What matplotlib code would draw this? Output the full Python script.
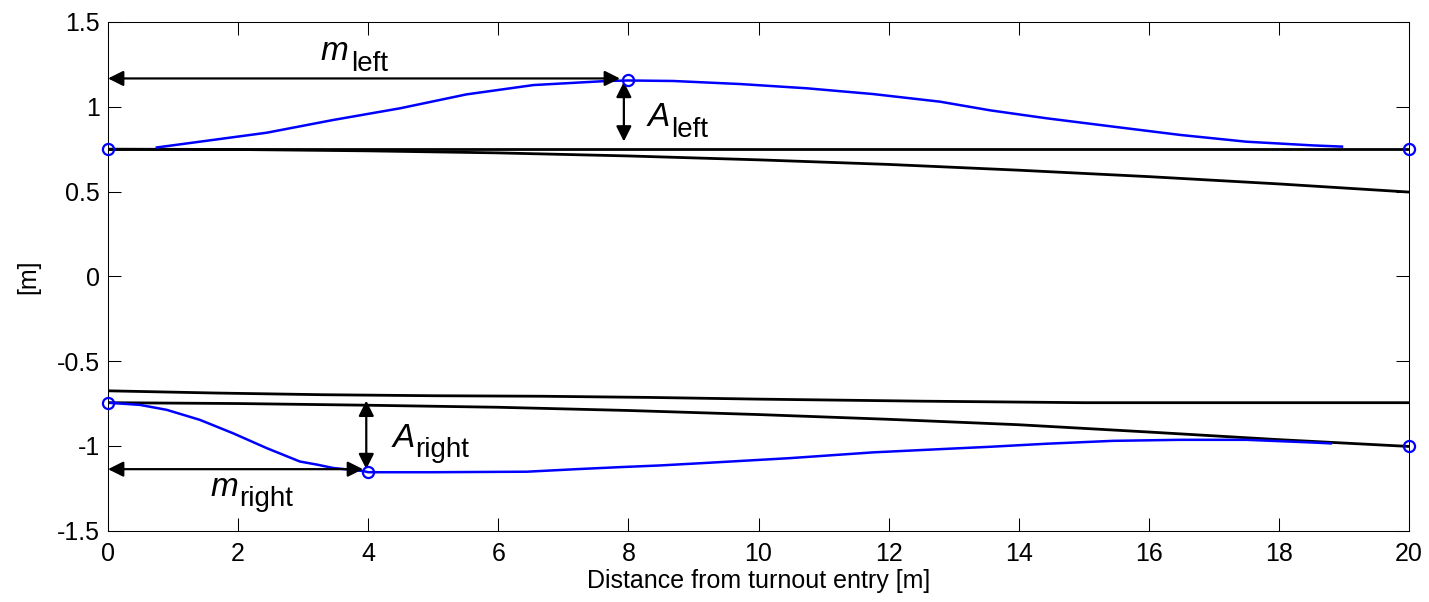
import matplotlib
matplotlib.use("Agg")
import matplotlib.pyplot as plt

plt.rcParams["font.family"] = ["Liberation Sans", "DejaVu Sans"]

# Left side: blue lateral offset curve, rails
left_blue_x = [0.75, 1.41, 2.44, 3.46, 4.49, 5.51, 6.54, 7.67, 8.0, 8.69, 9.72, 10.74,
               11.76, 12.79, 13.56, 14.43, 15.45, 16.48, 17.50, 18.53, 18.97]
left_blue_y = [0.76, 0.794, 0.847, 0.922, 0.991, 1.073, 1.128, 1.152, 1.155, 1.152, 1.134,
               1.109, 1.075, 1.030, 0.979, 0.932, 0.883, 0.834, 0.794, 0.772, 0.765]
left_markers_x = [0, 8, 20]
left_markers_y = [0.75, 1.155, 0.75]

straight_x = [0, 20]
straight_left_y = [0.75, 0.75]

rail_x = [0, 2, 4, 6, 8, 10, 12, 14, 16, 18, 20]
diverging_left_y = [0.75, 0.748, 0.740, 0.728, 0.71, 0.687, 0.66, 0.626, 0.588, 0.545, 0.497]
diverging_right_y = [-0.745, -0.75, -0.76, -0.772, -0.791, -0.815, -0.843, -0.875, -0.918, -0.963, -1.003]

upper_right_x = [0, 1.65, 3.3, 5.0, 6.67, 8.33, 10.0, 12.5, 15.0, 20]
upper_right_y = [-0.675, -0.688, -0.698, -0.704, -0.707, -0.714, -0.724, -0.736, -0.745, -0.745]

# Right side: blue curve
right_blue_x = [0, 0.49, 0.9, 1.41, 1.92, 2.44, 2.95, 3.21, 3.46, 3.92, 4.0, 5.0, 6.44, 7.2,
                7.87, 8.49, 9.2, 10.48, 11.76, 12.79, 13.56, 14.43, 15.45, 16.48, 17.5,
                18.53, 18.8]
right_blue_y = [-0.745, -0.758, -0.787, -0.846, -0.925, -1.013, -1.092, -1.11, -1.13, -1.148,
                -1.155, -1.155, -1.152, -1.137, -1.125, -1.115, -1.10, -1.072, -1.038,
                -1.019, -1.005, -0.987, -0.970, -0.964, -0.964, -0.98, -0.985]
right_markers_x = [0, 4, 20]
right_markers_y = [-0.745, -1.155, -1.003]

# Annotated parameters
m_left, A_left_top, A_left_base = 8, 1.155, 0.75
m_right, A_right_top, A_right_base = 4, -0.745, -1.155

x_ticks = [0, 2, 4, 6, 8, 10, 12, 14, 16, 18, 20]
y_ticks = [-1.5, -1, -0.5, 0, 0.5, 1, 1.5]
y_ticklabels = ["-1.5", "-1", "-0.5", "0", "0.5", "1", "1.5"]

fig = plt.figure(figsize=(14.29, 6.02), dpi=100)
ax = fig.add_axes([0.0756, 0.1184, 0.9104, 0.8451])

blk = dict(color="black", lw=2.0)
ax.plot(straight_x, straight_left_y, **blk)
ax.plot(rail_x, diverging_left_y, **blk)
ax.plot(upper_right_x, upper_right_y, **blk)
ax.plot(rail_x, diverging_right_y, **blk)

ax.plot(left_blue_x, left_blue_y, color="#0000FF", lw=1.8)
ax.plot(right_blue_x, right_blue_y, color="#0000FF", lw=1.8)
mk = dict(ls="none", marker="o", ms=8, mfc="none", mec="#0000FF", mew=1.6, clip_on=False, zorder=5)
ax.plot(left_markers_x, left_markers_y, **mk)
ax.plot(right_markers_x, right_markers_y, **mk)

arrow = dict(arrowstyle="<|-|>", color="black", lw=1.6, mutation_scale=23,
             shrinkA=0, shrinkB=0)
# m_left
ax.annotate("", xy=(0, 1.167), xytext=(m_left - 0.13, 1.167), arrowprops=arrow)
# A_left
ax.annotate("", xy=(m_left - 0.07, A_left_base + 0.045), xytext=(m_left - 0.07, A_left_top - 0.008),
            arrowprops=arrow)
# m_right
ax.annotate("", xy=(0, -1.137), xytext=(m_right - 0.08, -1.137), arrowprops=arrow)
# A_right
ax.annotate("", xy=(m_right - 0.03, A_right_top + 0.012), xytext=(m_right - 0.03, A_right_base + 0.018),
            arrowprops=arrow)

big = dict(fontsize=24, style="italic", va="baseline", ha="left")
small = dict(fontsize=20, va="baseline", ha="left")
ax.text(3.26, 1.276, "m", **big)
ax.text(3.73, 1.211, "left", **small)
ax.text(8.30, 0.887, "A", **big)
ax.text(8.66, 0.822, "left", **small)
ax.text(1.57, -1.293, "m", **big)
ax.text(2.02, -1.352, "right", **small)
ax.text(4.38, -1.005, "A", **big)
ax.text(4.72, -1.064, "right", **small)

ax.set_xlim(0, 20)
ax.set_ylim(-1.5, 1.5)
ax.set_xticks(x_ticks)
ax.set_xticklabels([str(t) for t in x_ticks])
ax.set_yticks(y_ticks)
ax.set_yticklabels(y_ticklabels)
ax.tick_params(direction="in", length=9.5, width=0.75, top=True, right=True,
               labelsize=18, colors="black")
ax.tick_params(axis="x", pad=8)
ax.tick_params(axis="y", pad=6)
for s in ax.spines.values():
    s.set_linewidth(0.75)

ax.set_xlabel("Distance from turnout entry [m]", fontsize=18, labelpad=2)
ax.set_ylabel("[m]", fontsize=18, labelpad=12)

fig.savefig("out.png", dpi=100, facecolor="white")
